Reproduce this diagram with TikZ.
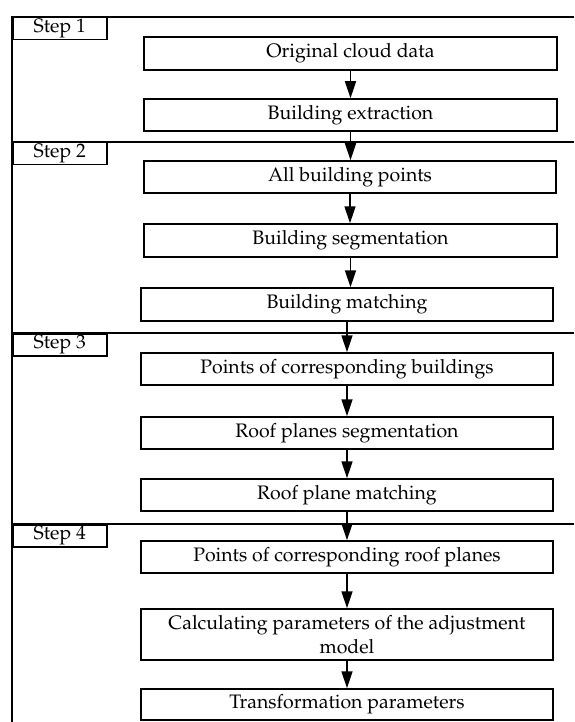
\documentclass[tikz,border=0pt]{standalone}
\usepackage[T1]{fontenc}
\usepackage{mathpazo}
\usetikzlibrary{arrows.meta}
\tikzset{
  flowbox/.style={draw, line width=1.5pt, minimum width=412pt, inner sep=0pt, align=center,
    font=\fontsize{19.5}{24}\selectfont},
  steplabel/.style={draw, line width=1.5pt, minimum width=94pt, minimum height=22pt, inner sep=0pt,
    anchor=north west, font=\fontsize{19.5}{22}\selectfont},
  sepline/.style={line width=1.5pt},
  flowarrow/.style={line width=1.5pt, -{Triangle[length=17pt,width=11pt]}}
}
\begin{document}
\begin{tikzpicture}[x=1pt,y=-1pt]
\useasboundingbox (0,0) rectangle (574,722);
% frame
\coordinate (tl) at (12,17);
\coordinate (bl) at (12,722);
\draw[sepline] (bl) -- (tl) -- (574,17);
\draw[sepline] (12,142) -- (574,142);
\draw[sepline] (12,333) -- (574,333);
\draw[sepline] (12,524) -- (574,524);
% step labels
\node[steplabel] (s1) at (12,17) {Step 1};
\node[steplabel] (s2) at (12,142) {Step 2};
\node[steplabel] (s3) at (12,333) {Step 3};
\node[steplabel] (s4) at (12,524) {Step 4};
% boxes
\node[flowbox, minimum width=413pt, minimum height=33pt] (b1) at (350.5,53.5) {Original cloud data};
\node[flowbox, minimum width=413pt, minimum height=32pt] (b2) at (350.5,115) {Building extraction};
\node[flowbox, minimum width=412pt, minimum height=32pt] (b3) at (350,177) {All building points};
\node[flowbox, minimum width=413pt, minimum height=33pt] (b4) at (350.5,240.5) {Building segmentation};
\node[flowbox, minimum height=33pt] (b5) at (347,304.5) {Building matching};
\node[flowbox, minimum height=32pt] (b6) at (347,369) {Points of corresponding buildings};
\node[flowbox, minimum height=32pt] (b7) at (347,433) {Roof planes segmentation};
\node[flowbox, minimum height=32pt] (b8) at (347,495) {Roof plane matching};
\node[flowbox, minimum height=32pt] (b9) at (347,557) {Points of corresponding roof planes};
\node[flowbox, minimum height=51pt] (b10) at (347,634.5) {Calculating parameters of the adjustment\\model};
\node[flowbox, minimum height=31pt] (b11) at (347,704.5) {Transformation parameters};
% arrows
\foreach \a/\b in {b1/b2,b2/b3,b3/b4,b4/b5,b5/b6,b6/b7,b7/b8,b8/b9,b9/b10,b10/b11}
  \draw[flowarrow] (\a.south) -- (\a.south |- \b.north);
\end{tikzpicture}
\end{document}
